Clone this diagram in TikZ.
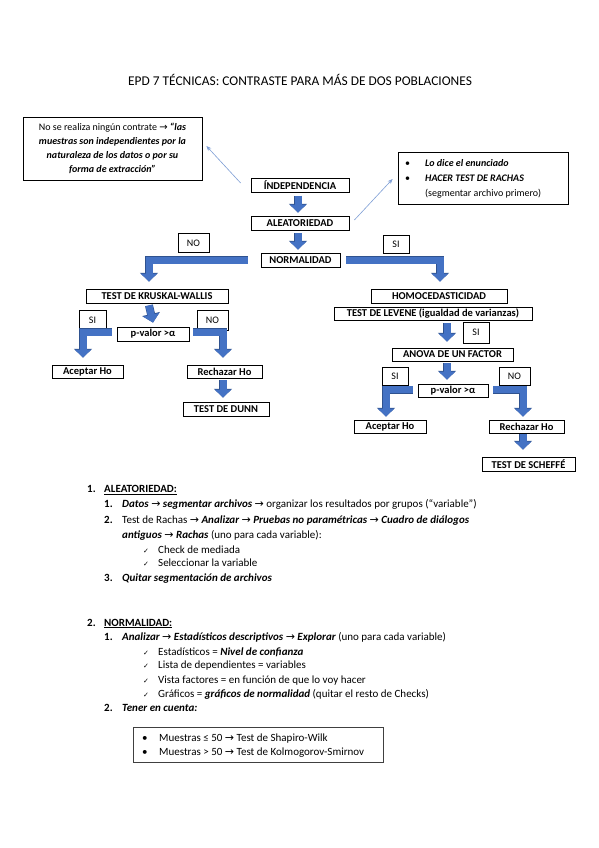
\documentclass[tikz,border=0pt]{standalone}
\usepackage{fontspec}
\setmainfont{Carlito}
\newfontfamily\djv{DejaVu Sans}
\usetikzlibrary{arrows.meta}
\definecolor{blk}{HTML}{4472C4}
\definecolor{blkd}{HTML}{2F528F}
\definecolor{thinblue}{HTML}{7F9FD6}
\newcommand{\ra}{{\djv\mdseries\upshape →}}
\newcommand{\ck}{{\djv\mdseries\upshape\fontsize{7}{7}\selectfont ✓}}
\newcommand{\bi}[1]{{\bfseries\itshape #1}}
\tikzset{
  bx/.style={draw=black, line width=0.8pt, inner sep=0pt, font=\fontsize{10.5}{12}\selectfont\bfseries},
  lb/.style={draw=black, line width=0.8pt, inner sep=0pt, font=\fontsize{10}{12}\selectfont},
  blockarrow/.style={draw=blk, line width=7pt, line join=miter,
    -{Triangle[width=16pt,length=8pt]},
    preaction={draw=blkd, line width=8pt, line join=miter, -{Triangle[width=17.6pt,length=8.8pt]}}},
  thinarrow/.style={draw=thinblue, line width=0.6pt, -{Stealth[length=5pt,width=4pt]}},
  txt/.style={anchor=base west, inner sep=0pt, font=\fontsize{11}{13}\selectfont},
}
\begin{document}
\begin{tikzpicture}[x=1pt,y=-1pt]
\useasboundingbox (0,0) rectangle (599,848);
\fill[white] (0,0) rectangle (599,848);

\node[font=\fontsize{13.4}{15}\selectfont, inner sep=0pt] (title) at (300,80) {EPD 7 TÉCNICAS: CONTRASTE PARA MÁS DE DOS POBLACIONES};

% top boxes
\node[draw=black, line width=0.8pt, minimum width=179pt, minimum height=63pt, inner sep=0pt, align=center, font=\fontsize{10}{14}\selectfont] (nocon) at (112.5,148.5)
 {No se realiza ningún contrate \ra\ \bi{“las}\\ \bi{muestras son independientes por la}\\ \bi{naturaleza de los datos o por su}\\ \bi{forma de extracción”}};

\node[draw=black, line width=0.8pt, minimum width=170pt, minimum height=52pt, inner sep=0pt] (rbox) at (483,178) {};
\node[anchor=west, inner sep=0pt, font=\fontsize{10}{15}\selectfont] (rtext) at (405,178)
 {\begin{tabular}{@{}p{20pt}@{}l@{}}•&\bi{Lo dice el enunciado}\\ •&\bi{HACER TEST DE RACHAS}\\ &(segmentar archivo primero)\end{tabular}};

\node[bx, minimum width=98pt, minimum height=14pt] (indep) at (300,185.5) {ÍNDEPENDENCIA};
\node[bx, minimum width=98pt, minimum height=14pt] (alea) at (300,223) {ALEATORIEDAD};
\node[bx, minimum width=79pt, minimum height=14pt] (norm) at (300.5,260) {NORMALIDAD};
\node[lb, minimum width=31pt, minimum height=19pt] (no1) at (193.5,243) {NO};
\node[lb, minimum width=26pt, minimum height=18pt] (si1) at (396,244.5) {SI};

% left branch
\node[bx, minimum width=142pt, minimum height=14pt] (kw) at (157,296) {TEST DE KRUSKAL-WALLIS};
\node[lb, minimum width=27pt, minimum height=20pt] (sikw) at (92.5,320) {SI};
\node[lb, minimum width=31pt, minimum height=20pt] (nokw) at (212.5,320) {NO};
\node[bx, minimum width=72pt, minimum height=14pt] (pv1) at (153,334) {p-valor >α};
\node[bx, minimum width=71pt, minimum height=13pt] (ac1) at (87.5,371.5) {Aceptar Ho};
\node[bx, minimum width=75pt, minimum height=13pt] (re1) at (224.5,371.5) {Rechazar Ho};
\node[bx, minimum width=86pt, minimum height=14pt] (dunn) at (226,409) {TEST DE DUNN};

% right branch
\node[bx, minimum width=136pt, minimum height=14pt] (homo) at (439,296) {HOMOCEDASTICIDAD};
\node[bx, minimum width=198pt, minimum height=13pt] (lev) at (433,313.5) {TEST DE LEVENE (igualdad de varianzas)};
\node[lb, minimum width=26pt, minimum height=21pt] (si2) at (476,332.5) {SI};
\node[bx, minimum width=121pt, minimum height=13pt] (anova) at (452.5,354.5) {ANOVA DE UN FACTOR};
\node[lb, minimum width=26pt, minimum height=18pt] (si3) at (395,376) {SI};
\node[lb, minimum width=31pt, minimum height=18pt] (no3) at (514.5,376) {NO};
\node[bx, minimum width=70pt, minimum height=13pt] (pv2) at (453,390.5) {p-valor >α};
\node[bx, minimum width=72pt, minimum height=13pt] (ac2) at (390,426.5) {Aceptar Ho};
\node[bx, minimum width=75pt, minimum height=13pt] (re2) at (526.5,426.5) {Rechazar Ho};
\node[bx, minimum width=93pt, minimum height=14pt] (sch) at (528.5,464) {TEST DE SCHEFFÉ};

% thin arrows
\draw[thinarrow] ([xshift=-10pt,yshift=2.5pt]indep.west) -- ([xshift=4pt,yshift=2.5pt]nocon.east);
\draw[thinarrow] ([xshift=5pt,yshift=3pt]alea.east) -- ([xshift=-5pt,yshift=-1pt]rbox.west);

% block arrows
\draw[blockarrow] ([xshift=-2pt,yshift=-3pt]indep.south) -- ([xshift=-2pt,yshift=3pt]alea.north);
\draw[blockarrow] ([xshift=-2pt,yshift=-3pt]alea.south) -- ([xshift=-2.5pt,yshift=3pt]norm.north);
\draw[blockarrow] ([xshift=-13pt]norm.west) -| ([xshift=-8pt,yshift=7pt]kw.north);
\draw[blockarrow] ([xshift=6pt]norm.east) -| ([xshift=1pt,yshift=7pt]homo.north);
\draw[blockarrow] ([xshift=-8pt,yshift=-2pt]kw.south) -- ([xshift=-4pt,yshift=4pt]pv1.north -| kw.south);
\draw[blockarrow] ([xshift=-5pt,yshift=2pt]pv1.west) -| ([xshift=-4.5pt,yshift=7pt]ac1.north);
\draw[blockarrow] ([xshift=4pt,yshift=2pt]pv1.east) -| ([xshift=-1.5pt,yshift=7pt]re1.north);
\draw[blockarrow] ([xshift=-1.5pt,yshift=-2pt]re1.south) -- ([xshift=-3pt,yshift=4pt]dunn.north);
\draw[blockarrow] ([xshift=14pt,yshift=-3pt]lev.south) -- ([xshift=-5.5pt,yshift=6pt]anova.north);
\draw[blockarrow] ([xshift=-5.5pt,yshift=-2pt]anova.south) -- ([xshift=-6pt,yshift=4pt]pv2.north);
\draw[blockarrow] ([xshift=-5pt,yshift=1pt]pv2.west) -| ([xshift=-4pt,yshift=3pt]ac2.north);
\draw[blockarrow] ([xshift=5pt,yshift=1pt]pv2.east) -| ([xshift=-3.5pt,yshift=3pt]re2.north);
\draw[blockarrow] ([xshift=-3.5pt,yshift=-1pt]re2.south) -- ([xshift=-5.5pt,yshift=7pt]sch.north);

% text section
\node[txt] (n1) at (87,492.5) {\textbf{1.}};
\node[txt] (h1) at (104,492.5) {\textbf{\underline{ALEATORIEDAD:}}};
\node[txt] (n11) at (104,507.5) {\textbf{1.}};
\node[txt] (t11) at (122,507.5) {\bi{Datos} \ra\ \bi{segmentar archivos} \ra\ organizar los resultados por grupos (“variable”)};
\node[txt] (n12) at (104,523.5) {\textbf{2.}};
\node[txt] (t12) at (122,523.5) {Test de Rachas \ra\ \bi{Analizar} \ra\ \bi{Pruebas no paramétricas} \ra\ \bi{Cuadro de diálogos}};
\node[txt] (t12b) at (122,538) {\bi{antiguos} \ra\ \bi{Rachas} (uno para cada variable):};
\node[txt] (c1) at (143,553) {\ck};
\node[txt] (tc1) at (158,553) {Check de mediada};
\node[txt] (c2) at (143,566.5) {\ck};
\node[txt] (tc2) at (158,566.5) {Seleccionar la variable};
\node[txt] (n13) at (104,581.5) {\textbf{3.}};
\node[txt] (t13) at (122,581.5) {\bi{Quitar segmentación de archivos}};

\node[txt] (n2) at (87,626) {\textbf{2.}};
\node[txt] (h2) at (104,626) {\textbf{\underline{NORMALIDAD:}}};
\node[txt] (n21) at (104,640.5) {\textbf{1.}};
\node[txt] (t21) at (122,640.5) {\bi{Analizar} \ra\ \bi{Estadísticos descriptivos} \ra\ \bi{Explorar} (uno para cada variable)};
\node[txt] (c3) at (143,655) {\ck};
\node[txt] (tc3) at (158,655) {Estadísticos = \bi{Nivel de confianza}};
\node[txt] (c4) at (143,668.5) {\ck};
\node[txt] (tc4) at (158,668.5) {Lista de dependientes = variables};
\node[txt] (c5) at (143,683) {\ck};
\node[txt] (tc5) at (158,683) {Vista factores = en función de que lo voy hacer};
\node[txt] (c6) at (143,697) {\ck};
\node[txt] (tc6) at (158,697) {Gráficos = \bi{gráficos de normalidad} (quitar el resto de Checks)};
\node[txt] (n22) at (104,711.5) {\textbf{2.}};
\node[txt] (t22) at (122,711.5) {\bi{Tener en cuenta:}};

\node[draw=black!75, line width=1pt, minimum width=250pt, minimum height=35pt, inner sep=0pt] (mbox) at (258,744.5) {};
\node[txt] (b1) at (142,741.5) {•};
\node[txt] (tb1) at (159,741.5) {Muestras ≤ 50 \ra\ Test de Shapiro-Wilk};
\node[txt] (b2) at (142,755.5) {•};
\node[txt] (tb2) at (159,755.5) {Muestras > 50 \ra\ Test de Kolmogorov-Smirnov};
\end{tikzpicture}
\end{document}
